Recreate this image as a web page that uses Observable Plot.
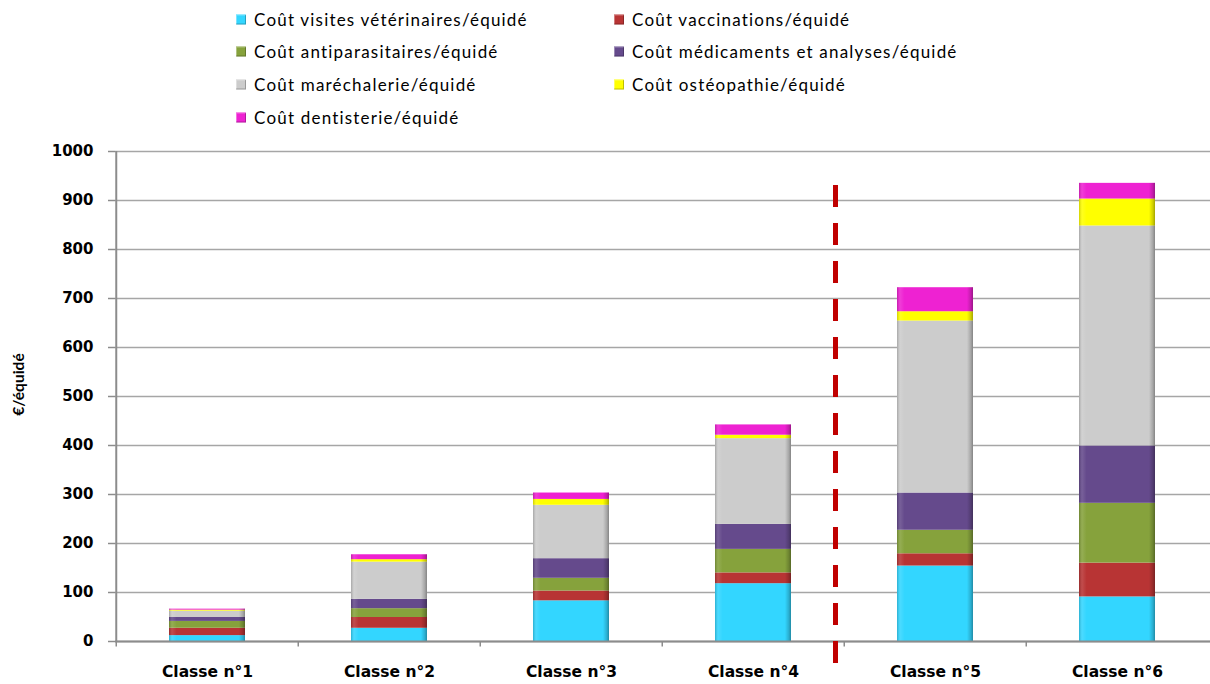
<!DOCTYPE html>
<html><head><meta charset="utf-8">
<script src="https://cdn.jsdelivr.net/npm/d3@7"></script>
<script src="https://cdn.jsdelivr.net/npm/@observablehq/plot@0.6"></script>
<style>
body{margin:0;background:#fff;}
#legend{position:relative;height:135px;width:1210px;font-family:Lato,"Open Sans",sans-serif;font-size:17px;letter-spacing:1.2px;color:#000;}
.item{position:absolute;display:flex;align-items:center;white-space:nowrap;transform:translateY(-50%);}
.sw{width:10px;height:10px;margin-right:8px;box-sizing:border-box;box-shadow:inset -1px -1px 0 rgba(0,0,0,0.25), inset 1px 1px 0 rgba(255,255,255,0.35);}
</style></head><body>
<div id="legend"></div><div id="chart"></div>
<script>
const categories = ["Classe n°1","Classe n°2","Classe n°3","Classe n°4","Classe n°5","Classe n°6"];
const series = [
  "Coût visites vétérinaires/équidé",
  "Coût vaccinations/équidé",
  "Coût antiparasitaires/équidé",
  "Coût médicaments et analyses/équidé",
  "Coût maréchalerie/équidé",
  "Coût ostéopathie/équidé",
  "Coût dentisterie/équidé"
];
const colors = ["#33d6ff","#b83434","#86a23c","#654a8c","#cccccc","#ffff00","#ee22d2"];
const visites          = [12, 27, 83, 118, 154, 91];
const vaccinations     = [15, 22, 20, 22, 25, 69];
const antiparasitaires = [14, 18, 26, 48, 48, 122];
const medicaments      = [8, 19, 40, 51, 76, 117];
const marechalerie     = [13, 76, 109, 175, 351, 449];
const osteopathie      = [2, 5, 12, 7, 19, 55];
const dentisterie      = [2, 10, 13, 21, 49, 32];
const yTicks = [0,100,200,300,400,500,600,700,800,900,1000];
const yLabel = "€/équidé";

const seriesValues = [visites, vaccinations, antiparasitaires, medicaments, marechalerie, osteopathie, dentisterie];
const rows = [];
series.forEach((s, si) => categories.forEach((c, ci) => rows.push({cat: c, series: s, value: seriesValues[si][ci]})));

// legend
const legendPos = [[236,19],[614,19],[236,51],[614,51],[236,84],[614,84],[236,117]];
const lg = document.getElementById("legend");
series.forEach((s, i) => {
  const d = document.createElement("div");
  d.className = "item";
  d.style.left = legendPos[i][0] + "px";
  d.style.top = legendPos[i][1] + "px";
  d.innerHTML = `<span class="sw" style="background:${colors[i]}"></span><span>${s}</span>`;
  lg.appendChild(d);
});

const W = 1210, ML = 115, MR = 0;
const step = (W - ML - MR) / categories.length;

const chart = Plot.plot({
  width: W, height: 549, marginTop: 16, marginBottom: 43, marginLeft: ML, marginRight: MR,
  style: {fontFamily: "DejaVu Sans", fontSize: "15px", fontWeight: "bold", color: "#000", background: "#fff"},
  x: {domain: categories, paddingInner: 0.58, paddingOuter: 0.29, label: null},
  y: {domain: [0, 1000], label: null},
  color: {domain: series, range: colors},
  marks: [
    Plot.gridY(yTicks, {stroke: "#a6a6a6", strokeOpacity: 1, strokeWidth: 1.5}),
    Plot.barY(rows, {x: "cat", y: "value", fill: "series", z: "series"}),
    Plot.barY(rows, {x: "cat", y: "value", z: "series", fill: "url(#bevelH)"}),
    Plot.ruleX([categories[0]], {dx: -step/2, y1: 0, y2: 1000, stroke: "#8c8c8c", strokeWidth: 2}),
    Plot.axisY({ticks: yTicks, tickFormat: d3.format("d"), tickSize: 7, tickPadding: 15, stroke: "#8c8c8c", strokeWidth: 1.5, fontSize: 15, label: null}),
    Plot.ruleY([0], {stroke: "#8c8c8c", strokeWidth: 2}),
    Plot.ruleX(categories, {dx: -step/2, y1: 0, y2: -11, stroke: "#8c8c8c", strokeWidth: 1.5, clip: false}),
    Plot.axisX({tickSize: 0, tickPadding: 24, fontSize: 15.5, label: null}),
    Plot.ruleX([categories[3]], {dx: 82, y1: -45, y2: 955, stroke: "#c00000", strokeWidth: 5, strokeDasharray: "22,16"}),
    Plot.text([yLabel], {frameAnchor: "left", textAnchor: "middle", dx: -96, dy: -12, rotate: -90, fontSize: 15.5, fontFamily: "Lato", fontWeight: "bold", fill: "#000"})
  ]
});
const ns = "http://www.w3.org/2000/svg";
const defs = document.createElementNS(ns, "defs");
defs.innerHTML = `
<linearGradient id="bevelH" x1="0" y1="0" x2="1" y2="0">
  <stop offset="0" stop-color="#000" stop-opacity="0.18"/>
  <stop offset="0.04" stop-color="#fff" stop-opacity="0.12"/>
  <stop offset="0.1" stop-color="#fff" stop-opacity="0"/>
  <stop offset="0.92" stop-color="#000" stop-opacity="0"/>
  <stop offset="0.97" stop-color="#000" stop-opacity="0.18"/>
  <stop offset="1" stop-color="#000" stop-opacity="0.35"/>
</linearGradient>`;
chart.insertBefore(defs, chart.firstChild);
document.getElementById("chart").appendChild(chart);
</script>
</body></html>
